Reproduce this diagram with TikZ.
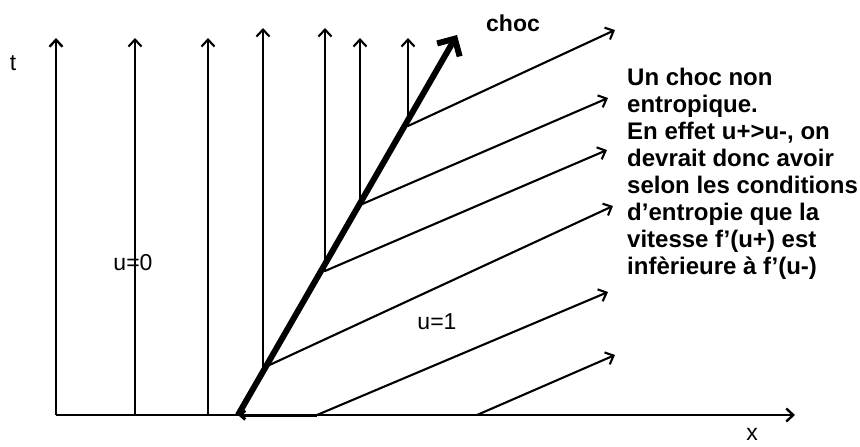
\documentclass[tikz,border=0pt]{standalone}
\usepackage{fontspec}
\setmainfont{Liberation Sans}
\usetikzlibrary{arrows.meta}
\begin{document}
\begin{tikzpicture}[x=1pt,y=-1pt,
  ray/.style={line width=2.1pt,line cap=round,-{Straight Barb[length=7pt,width=13pt]}},
  shockline/.style={line width=6pt,-{Straight Barb[length=13pt,width=26pt]}},
  axis/.style={line width=2.4pt,-{Straight Barb[length=7pt,width=13pt]}},
  lbl/.style={font=\fontsize{23}{27}\selectfont, inner sep=0pt},
  note/.style={font=\fontsize{24}{27}\selectfont\bfseries, align=left, inner sep=0pt, anchor=north west}]
\useasboundingbox (0,0) rectangle (860,447);

% axes
\coordinate (O) at (56,415);
\coordinate (Xend) at (795,415);
\coordinate (Tend) at (56,38);

% points on the shock
\coordinate (S0) at (238,415);
\coordinate (S1) at (263,368);
\coordinate (S2) at (325,271);
\coordinate (S3) at (360,205);
\coordinate (S4) at (408,126);
\coordinate (Send) at (457,35);

% feet of characteristics on the x axis
\coordinate (B1) at (135,415);
\coordinate (B2) at (208,415);
\coordinate (C1) at (317,415);
\coordinate (C2) at (477,415);

% tips of the vertical characteristics (u=0)
\coordinate (V1) at (135,38);
\coordinate (V2) at (208,38);
\coordinate (V3) at (263,28);
\coordinate (V4) at (325,28);
\coordinate (V5) at (360,38);
\coordinate (V6) at (408,38);

% tips of the slanted characteristics (u=1)
\coordinate (R4) at (615,30);
\coordinate (R3) at (608,98);
\coordinate (R2) at (607,150);
\coordinate (R1) at (613,206);
\coordinate (RC1) at (608,292);
\coordinate (RC2) at (615,355);

\draw[axis] (O) -- (Xend);
\draw[axis] (O) -- (Tend);

% u = 0 side
\draw[ray] (B1) -- (V1);
\draw[ray] (B2) -- (V2);
\draw[ray] (S1) -- (V3);
\draw[ray] (S2) -- (V4);
\draw[ray] (S3) -- (V5);
\draw[ray] (S4) -- (V6);

% u = 1 side
\draw[ray] (S4) -- (R4);
\draw[ray] (S3) -- (R3);
\draw[ray] (S2) -- (R2);
\draw[ray] (S1) -- (R1);
\draw[ray] (C1) -- (RC1);
\draw[ray] (C2) -- (RC2);
\draw[line width=3pt,-{Straight Barb[length=5pt,width=9pt]}] (C1) -- (S0);

% shock
\draw[shockline] (S0) -- (Send);

% labels
\node[lbl] (tlab) at (13,63) {t};
\node[lbl] (xlab) at (752,434) {x};
\node[lbl] (u0) at (133,263) {u=0};
\node[lbl] (u1) at (437,322) {u=1};
\node[lbl,font=\fontsize{23}{27}\selectfont\bfseries] (choc) at (513,23) {choc};
\node[note] (remark) at (627,68) {Un choc non\\entropique.\\En effet u+>u-, on\\devrait donc avoir\\selon les conditions\\d’entropie que la\\vitesse f’(u+) est\\infèrieure à f’(u-)};
\end{tikzpicture}
\end{document}
